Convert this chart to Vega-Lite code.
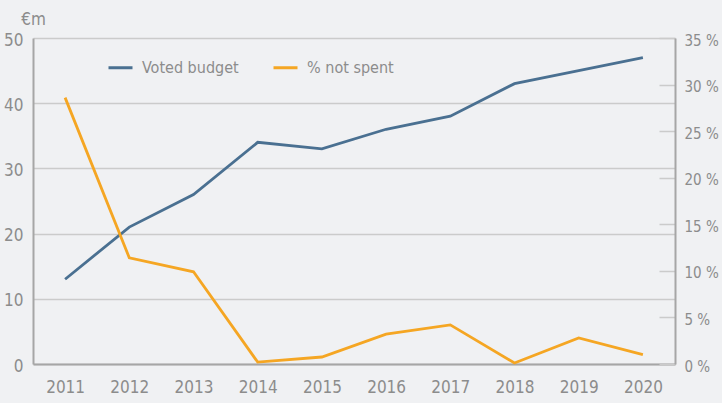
{
  "$schema": "https://vega.github.io/schema/vega-lite/v6.json",
  "width": 642,
  "height": 326,
  "autosize": {"type": "none"},
  "padding": {"left": 33, "top": 38, "right": 47, "bottom": 39},
  "background": "#f0f1f3",
  "config": {
    "view": {"stroke": null},
    "font": "DejaVu Sans Condensed, Roboto, sans-serif",
    "axis": {"labelFont": "DejaVu Sans Condensed, Roboto, sans-serif", "labelColor": "#8c8c8c", "labelFontSize": 17, "titleFont": "DejaVu Sans Condensed, Roboto, sans-serif", "titleColor": "#8c8c8c", "titleFontWeight": "normal"},
    "legend": {"labelFont": "DejaVu Sans Condensed, Roboto, sans-serif", "labelColor": "#8c8c8c", "labelFontSize": 16}
  },
  "data": {
    "values": [
      {"year": "2011", "series": "Voted budget", "value": 13},
      {"year": "2012", "series": "Voted budget", "value": 21},
      {"year": "2013", "series": "Voted budget", "value": 26},
      {"year": "2014", "series": "Voted budget", "value": 34},
      {"year": "2015", "series": "Voted budget", "value": 33},
      {"year": "2016", "series": "Voted budget", "value": 36},
      {"year": "2017", "series": "Voted budget", "value": 38},
      {"year": "2018", "series": "Voted budget", "value": 43},
      {"year": "2019", "series": "Voted budget", "value": 45},
      {"year": "2020", "series": "Voted budget", "value": 47},
      {"year": "2011", "series": "% not spent", "value": 28.6},
      {"year": "2012", "series": "% not spent", "value": 11.4},
      {"year": "2013", "series": "% not spent", "value": 9.9},
      {"year": "2014", "series": "% not spent", "value": 0.2},
      {"year": "2015", "series": "% not spent", "value": 0.75},
      {"year": "2016", "series": "% not spent", "value": 3.2},
      {"year": "2017", "series": "% not spent", "value": 4.2},
      {"year": "2018", "series": "% not spent", "value": 0.1},
      {"year": "2019", "series": "% not spent", "value": 2.8},
      {"year": "2020", "series": "% not spent", "value": 1.0}
    ]
  },
  "encoding": {
    "x": {
      "field": "year", "type": "ordinal",
      "scale": {"type": "point", "padding": 0.5},
      "axis": {"title": null, "labelAngle": 0, "ticks": false, "domainColor": "#a6a6a6", "domainWidth": 2, "labelPadding": 15, "grid": false}
    },
    "color": {
      "field": "series", "type": "nominal",
      "scale": {"domain": ["Voted budget", "% not spent"], "range": ["#4a7091", "#f5a623"]},
      "legend": {
        "title": null, "orient": "none", "direction": "horizontal",
        "legendX": 74, "legendY": 16,
        "symbolType": "stroke", "symbolSize": 576, "symbolStrokeWidth": 3,
        "labelOffset": 8, "columnPadding": 28
      }
    }
  },
  "layer": [
    {
      "transform": [{"filter": "datum.series == 'Voted budget'"}],
      "mark": {"type": "line", "strokeWidth": 2.8},
      "encoding": {
        "y": {
          "field": "value", "type": "quantitative",
          "scale": {"domain": [0, 50], "nice": false},
          "axis": {
            "values": [0, 10, 20, 30, 40, 50],
            "title": "€m", "titleAngle": 0, "titleAlign": "center", "titleBaseline": "alphabetic",
            "titleX": 0, "titleY": -14, "titleFontSize": 17,
            "ticks": false, "domainColor": "#a6a6a6", "domainWidth": 2,
            "gridColor": "#cbcbcb", "gridWidth": 1.5, "labelPadding": 10, "labelOffset": 2
          }
        }
      }
    },
    {
      "transform": [{"filter": "datum.series == '% not spent'"}],
      "mark": {"type": "line", "strokeWidth": 2.8},
      "encoding": {
        "y": {
          "field": "value", "type": "quantitative",
          "scale": {"domain": [0, 35], "nice": false},
          "axis": {
            "orient": "right", "values": [0, 5, 10, 15, 20, 25, 30, 35],
            "labelExpr": "datum.value + ' %'",
            "title": null, "grid": false, "labelFontSize": 15, "labelOffset": 2,
            "tickSize": -16, "tickColor": "#cbcbcb", "tickWidth": 1.5,
            "domainColor": "#a6a6a6", "domainWidth": 2, "labelPadding": 25
          }
        }
      }
    }
  ],
  "resolve": {"scale": {"y": "independent"}}
}
